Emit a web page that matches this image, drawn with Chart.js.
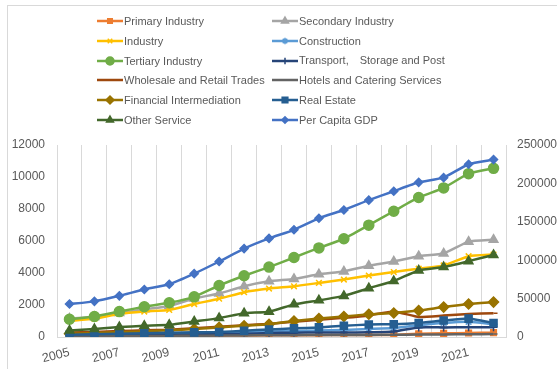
<!DOCTYPE html>
<html>
<head>
<meta charset="utf-8">
<script src="https://cdn.jsdelivr.net/npm/chart.js@4.4.0/dist/chart.umd.min.js"></script>
<style>
body { margin: 0; background: #fff; }
#wrap { position: relative; width: 557px; height: 369px; overflow: hidden; }
#frame { position: absolute; left: 7px; top: 5px; width: 560px; height: 380px; border: 1px solid #d9d9d9; }
#chart { position: absolute; left: 0; top: 0; }
.item { position: absolute; height: 14px; line-height: 14px; white-space: nowrap; display: flex; align-items: center;
        font: 11px "Liberation Sans", sans-serif; color: #595959; }
.item canvas { margin-right: 1px; }
</style>
</head>
<body>
<div id="wrap">
  <div id="frame"></div>
  <canvas id="chart" width="557" height="369"></canvas>
  <div id="legend"></div>
</div>
<script>
var years = ['2005','2006','2007','2008','2009','2010','2011','2012','2013','2014','2015','2016','2017','2018','2019','2020','2021','2022']

// left axis series
var primaryIndustry   = [40, 45, 55, 60, 65, 75, 85, 95, 105, 110, 115, 120, 125, 130, 200, 230, 250, 270]
var secondaryIndustry = [1150, 1250, 1500, 1730, 1940, 2410, 2720, 3170, 3480, 3630, 3920, 4100, 4450, 4720, 5050, 5220, 5960, 6080]
var industry          = [1010, 1150, 1440, 1590, 1690, 2060, 2390, 2800, 3030, 3170, 3380, 3590, 3840, 4060, 4270, 4470, 5050, 5150]
var construction      = [90, 110, 140, 170, 200, 230, 270, 300, 350, 380, 400, 440, 500, 560, 740, 880, 950, 800]
var tertiaryIndustry  = [1110, 1280, 1590, 1890, 2140, 2510, 3220, 3830, 4370, 4970, 5570, 6140, 6990, 7860, 8720, 9320, 10210, 10540]
var transport         = [100, 110, 120, 130, 140, 160, 180, 200, 250, 270, 280, 280, 290, 340, 600, 600, 610, 610]
var wholesaleRetail   = [280, 320, 370, 420, 460, 540, 640, 730, 820, 950, 1080, 1200, 1350, 1600, 1250, 1340, 1440, 1490]
var hotelsCatering    = [50, 55, 60, 65, 70, 80, 90, 100, 110, 115, 120, 125, 130, 140, 150, 160, 170, 180]
var financial         = [200, 250, 300, 350, 420, 500, 600, 700, 800, 1000, 1150, 1280, 1420, 1500, 1650, 1870, 2060, 2180]
var realEstate        = [140, 170, 210, 240, 270, 290, 310, 390, 470, 540, 600, 700, 780, 800, 880, 1030, 1150, 870]
var otherService      = [410, 500, 620, 700, 760, 970, 1180, 1490, 1580, 2040, 2290, 2570, 3050, 3500, 4160, 4370, 4740, 5130]
// right axis series
var perCapitaGDP      = [42900, 46400, 53600, 61900, 68700, 82500, 98300, 115100, 128400, 139600, 154600, 165400, 178200, 189800, 201400, 207500, 225000, 231000]

var leftTicks = [0, 2000, 4000, 6000, 8000, 10000, 12000]
var rightTicks = [0, 50000, 100000, 150000, 200000, 250000]

var series = [
    { label: 'Primary Industry', data: primaryIndustry, color: '#ED7D31', style: 'rect', r: 4 },
    { label: 'Secondary Industry', data: secondaryIndustry, color: '#A5A5A5', style: 'triangle', r: 5 },
    { label: 'Industry', data: industry, color: '#FFC000', style: 'crossRot', r: 4 },
    { label: 'Construction', data: construction, color: '#5B9BD5', style: 'star', r: 4 },
    { label: 'Tertiary Industry', data: tertiaryIndustry, color: '#70AD47', style: 'circle', r: 5 },
    { label: 'Transport,\u3000Storage and Post', data: transport, color: '#264478', style: 'cross', r: 4 },
    { label: 'Wholesale and Retail Trades', data: wholesaleRetail, color: '#9E480E', style: 'dash', r: 4 },
    { label: 'Hotels and Catering Services', data: hotelsCatering, color: '#636363', style: 'dash', r: 4 },
    { label: 'Financial Intermediation', data: financial, color: '#997300', style: 'rectRot', r: 5 },
    { label: 'Real Estate', data: realEstate, color: '#255E91', style: 'rect', r: 5 },
    { label: 'Other Service', data: otherService, color: '#43682B', style: 'triangle', r: 5 },
    { label: 'Per Capita GDP', data: perCapitaGDP, color: '#4472C4', style: 'rectRot', r: 4, axis: 'y1' }
]

var tickFont = { family: '"Liberation Sans", sans-serif', size: 12 }

var datasets = series.map((s, i) => ({
    label: s.label,
    data: s.data,
    yAxisID: s.axis || 'y',
    borderColor: s.color,
    backgroundColor: s.color,
    pointBorderColor: s.color,
    pointBackgroundColor: s.color,
    pointStyle: s.style,
    pointRadius: s.r,
    pointBorderWidth: 1.5,
    borderWidth: 2.5,
    tension: 0.15,
    order: series.length - i // later series on top, like the original
}))

var chart = new Chart(document.getElementById('chart'), {
    type: 'line',
    data: { labels: years, datasets: datasets },
    options: {
        responsive: false,
        animation: false,
        events: [],
        layout: { padding: { top: 145, left: 0, right: 0, bottom: 0 } },
        plugins: { legend: { display: false }, tooltip: { enabled: false } },
        scales: {
            x: {
                offset: true,
                grid: { offset: true, color: '#d9d9d9', drawTicks: false },
                border: { color: '#d9d9d9' },
                ticks: {
                    autoSkip: false,
                    minRotation: 14, maxRotation: 14,
                    padding: 8,
                    color: '#595959',
                    font: { family: '"Liberation Sans", sans-serif', size: 12.5 },
                    callback: (v, i) => i % 2 == 0 ? years[i] : ''
                },
                afterFit: (axis) => { axis.height = 32 }
            },
            y: {
                position: 'left',
                min: 0, max: 12000,
                afterBuildTicks: (axis) => { axis.ticks = leftTicks.map(v => ({ value: v })) },
                grid: { display: false },
                border: { display: false },
                ticks: { padding: 4, color: '#595959', font: tickFont, callback: (v) => String(v) },
                afterFit: (axis) => { axis.width = 57 }
            },
            y1: {
                position: 'right',
                min: 0, max: 250000,
                afterBuildTicks: (axis) => { axis.ticks = rightTicks.map(v => ({ value: v })) },
                grid: { display: false },
                border: { display: false },
                ticks: { padding: 3, color: '#595959', font: tickFont, callback: (v) => String(v) },
                afterFit: (axis) => { axis.width = 51 }
            }
        }
    }
})

/**
 * Build the two column legend out of the series list
 */
function buildLegend() {
    var legend = document.getElementById('legend')
    series.forEach((s, i) => {
        var item = document.createElement('div')
        item.className = 'item'
        item.style.left = (i % 2 == 0 ? 97 : 272) + 'px'
        item.style.top = (14 + Math.floor(i / 2) * 19.8) + 'px'

        var c = document.createElement('canvas')
        c.width = 26
        c.height = 14
        var ctx = c.getContext('2d')
        ctx.strokeStyle = s.color
        ctx.fillStyle = s.color
        ctx.lineWidth = 2.5
        ctx.beginPath()
        ctx.moveTo(0, 7)
        ctx.lineTo(26, 7)
        ctx.stroke()
        ctx.lineWidth = 1.5
        if (Chart.helpers && Chart.helpers.drawPoint)
            Chart.helpers.drawPoint(ctx, { pointStyle: s.style, radius: s.r * 0.8, borderWidth: 1.5, rotation: 0 }, 13, 7)

        var text = document.createElement('span')
        text.textContent = s.label

        item.appendChild(c)
        item.appendChild(text)
        legend.appendChild(item)
    })
}

buildLegend()
</script>
</body>
</html>
